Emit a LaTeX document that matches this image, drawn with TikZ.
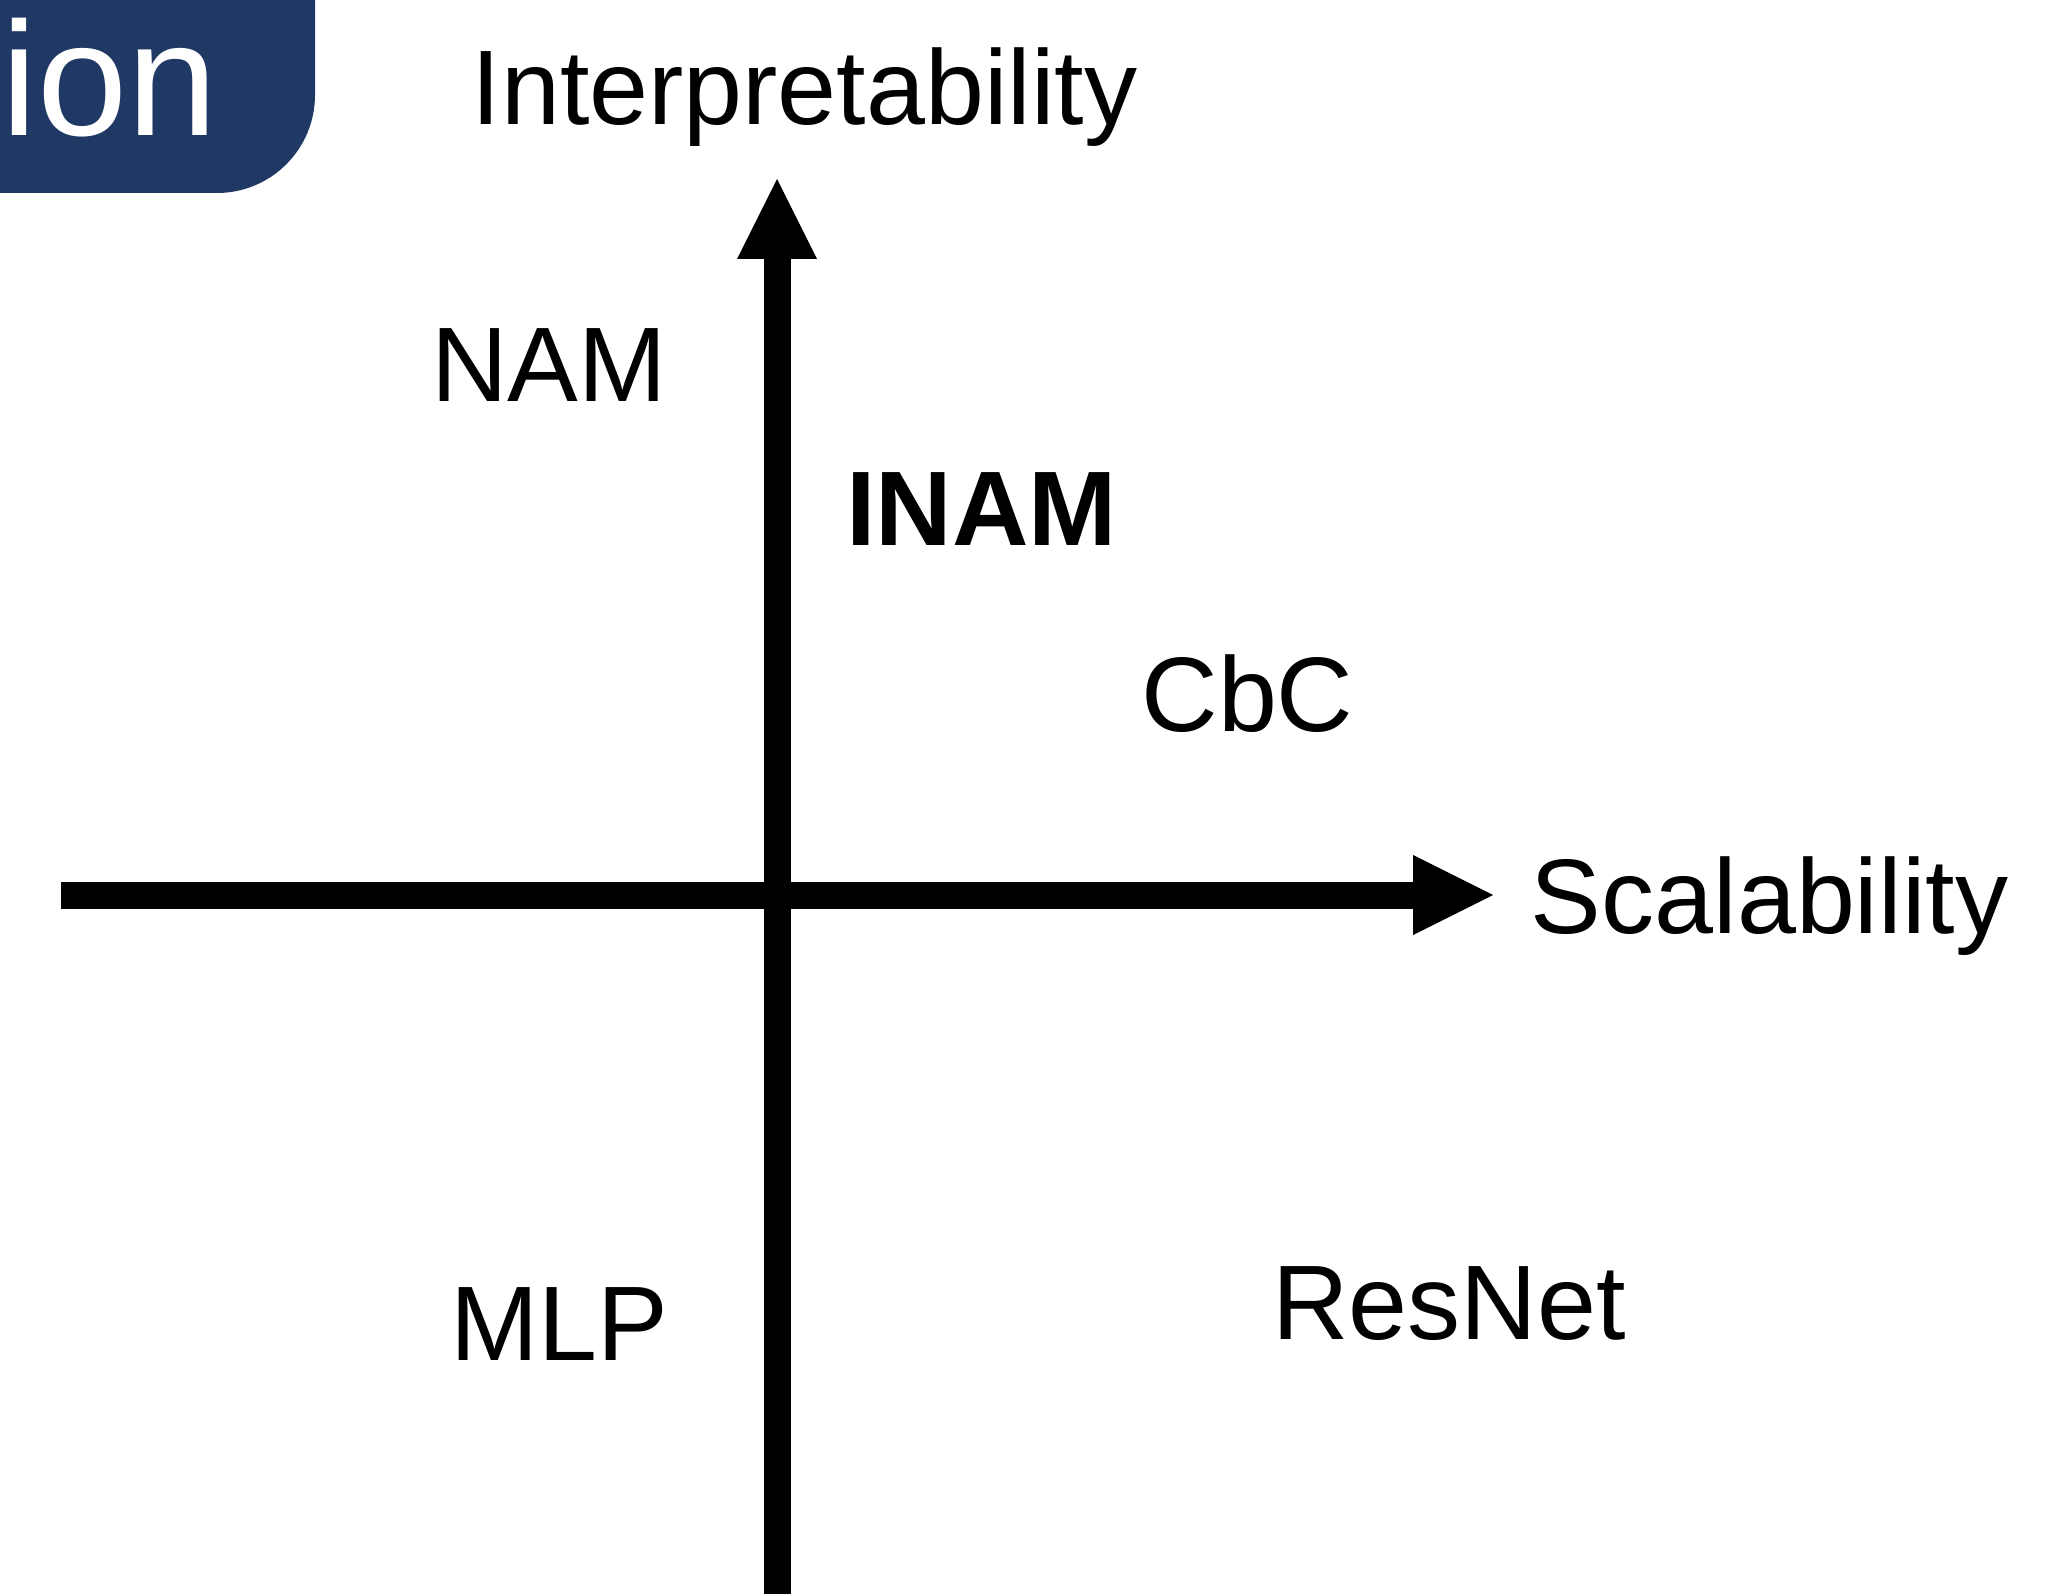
\documentclass[tikz,border=0pt]{standalone}
\usepackage{fontspec}
\setmainfont{Liberation Sans}
\definecolor{navy}{RGB}{31,56,100}
\begin{document}
\begin{tikzpicture}[x=0.25pt,y=-0.25pt,
  axis/.style={line width=6.75pt, line cap=butt},
  tiphead/.style={fill=black},
  lbl/.style={font=\fontsize{26.5pt}{30pt}\selectfont, inner sep=0pt, anchor=base}]
\useasboundingbox (0,0) rectangle (2069,1594);

% title tab in the corner
\fill[navy] (0,0) -- (315,0) -- (315,95) arc[start angle=0, end angle=90, radius=98] -- (0,193) -- cycle;
\node[font=\fontsize{40.5pt}{46pt}\selectfont, text=white, anchor=base west, inner sep=0pt] (tab) at (1,136) {ion};

% axes
\coordinate (vbot) at (777,1594);
\coordinate (vbase) at (777,255);
\coordinate (vtip) at (777,179);
\coordinate (hleft) at (61,895);
\coordinate (hbase) at (1417,895);
\coordinate (htip) at (1493,895);
\draw[axis] (vbot) -- (vbase);
\fill[tiphead] (vtip) -- (737,259) -- (817,259) -- cycle;
\draw[axis] (hleft) -- (hbase);
\fill[tiphead] (htip) -- (1413,855) -- (1413,935) -- cycle;

% axis titles
\node[lbl] (interp) at (804.5,125) {Interpretability};
\node[lbl] (scal) at (1769.5,933) {Scalability};

% models
\node[lbl] (nam) at (549,402) {NAM};
\node[lbl, font=\fontsize{26.5pt}{30pt}\selectfont\bfseries] (inam) at (981.5,545) {INAM};
\node[lbl] (cbc) at (1247.5,731) {CbC};
\node[lbl] (mlp) at (559.5,1360) {MLP};
\node[lbl] (resnet) at (1449,1339) {ResNet};
\end{tikzpicture}
\end{document}
